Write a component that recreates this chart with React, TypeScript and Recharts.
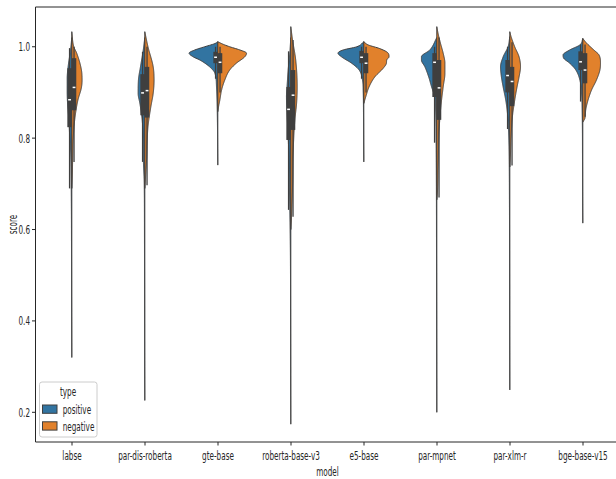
import React from 'react';
import { BarChart, Bar, XAxis, YAxis, ReferenceLine } from 'recharts';

const models = ['labse', 'par-dis-roberta', 'gte-base', 'roberta-base-v3', 'e5-base', 'par-mpnet', 'par-xlm-r', 'bge-base-v15'];
const types = ['positive', 'negative'];
const typeColors = ['#3274a1', '#e1812c'];
const yTicks = [0.2, 0.4, 0.6, 0.8, 1.0];
const yDomain = [0.135, 1.087];

// [score, relative density half-width]
const positiveProfiles: [number, number][][] = [
  [[1.02, 0], [0.99, 0.05], [0.96, 0.12], [0.93, 0.16], [0.9, 0.16], [0.87, 0.14], [0.84, 0.1], [0.8, 0.07], [0.77, 0.04], [0.72, 0.025], [0.65, 0.015], [0.55, 0.01], [0.45, 0.007], [0.32, 0]],
  [[1.02, 0], [0.99, 0.06], [0.956, 0.15], [0.927, 0.22], [0.898, 0.23], [0.876, 0.17], [0.84, 0.09], [0.8, 0.06], [0.752, 0.05], [0.7, 0.02], [0.6, 0.012], [0.45, 0.008], [0.3, 0.005], [0.226, 0]],
  [[1.011, 0], [1.007, 0.1], [1.0, 0.45], [0.993, 0.79], [0.986, 0.99], [0.978, 0.85], [0.971, 0.62], [0.956, 0.28], [0.942, 0.1], [0.912, 0.045], [0.876, 0.025], [0.83, 0.012], [0.78, 0.006], [0.741, 0]],
  [[1.02, 0], [0.986, 0.035], [0.95, 0.09], [0.912, 0.13], [0.891, 0.15], [0.854, 0.13], [0.803, 0.09], [0.767, 0.07], [0.73, 0.06], [0.643, 0.035], [0.55, 0.015], [0.4, 0.008], [0.25, 0.004], [0.174, 0]],
  [[1.011, 0], [1.0, 0.24], [0.993, 0.71], [0.986, 0.89], [0.978, 0.77], [0.964, 0.42], [0.949, 0.16], [0.927, 0.045], [0.9, 0.02], [0.85, 0.01], [0.8, 0.006], [0.748, 0]],
  [[1.02, 0], [0.993, 0.24], [0.978, 0.53], [0.971, 0.53], [0.956, 0.41], [0.934, 0.28], [0.912, 0.18], [0.89, 0.07], [0.86, 0.04], [0.8, 0.025], [0.7, 0.015], [0.55, 0.01], [0.4, 0.006], [0.2, 0]],
  [[1.022, 0], [1.0, 0.06], [0.978, 0.23], [0.956, 0.32], [0.934, 0.29], [0.912, 0.23], [0.883, 0.14], [0.854, 0.08], [0.818, 0.045], [0.77, 0.025], [0.65, 0.012], [0.5, 0.007], [0.35, 0.004], [0.249, 0]],
  [[1.018, 0], [1.004, 0.1], [0.993, 0.45], [0.982, 0.68], [0.975, 0.66], [0.964, 0.45], [0.949, 0.24], [0.927, 0.1], [0.898, 0.045], [0.85, 0.02], [0.75, 0.01], [0.65, 0.005], [0.614, 0]],
];

const negativeProfiles: [number, number][][] = [
  [[1.033, 0], [1.0, 0.07], [0.986, 0.17], [0.95, 0.33], [0.927, 0.355], [0.91, 0.33], [0.883, 0.21], [0.84, 0.1], [0.8, 0.05], [0.767, 0.035], [0.72, 0.017], [0.69, 0]],
  [[1.033, 0], [1.0, 0.11], [0.956, 0.29], [0.927, 0.32], [0.898, 0.29], [0.869, 0.21], [0.825, 0.11], [0.752, 0.06], [0.72, 0.03], [0.69, 0]],
  [[1.011, 0], [1.005, 0.2], [1.0, 0.41], [0.993, 0.76], [0.986, 0.99], [0.978, 0.93], [0.964, 0.64], [0.949, 0.41], [0.927, 0.24], [0.905, 0.13], [0.883, 0.07], [0.87, 0.03], [0.858, 0]],
  [[1.044, 0], [1.015, 0.06], [0.971, 0.17], [0.912, 0.22], [0.876, 0.2], [0.84, 0.14], [0.767, 0.08], [0.694, 0.06], [0.628, 0.025], [0.6, 0]],
  [[1.011, 0], [1.004, 0.15], [0.996, 0.55], [0.986, 0.84], [0.978, 0.87], [0.971, 0.79], [0.964, 0.78], [0.953, 0.67], [0.934, 0.38], [0.912, 0.18], [0.891, 0.07], [0.876, 0]],
  [[1.044, 0], [1.029, 0.045], [1.007, 0.13], [0.986, 0.22], [0.964, 0.28], [0.942, 0.28], [0.912, 0.22], [0.869, 0.14], [0.818, 0.08], [0.737, 0.045], [0.679, 0.02], [0.665, 0]],
  [[1.033, 0], [1.022, 0.045], [1.0, 0.17], [0.978, 0.32], [0.956, 0.37], [0.934, 0.32], [0.912, 0.25], [0.883, 0.17], [0.847, 0.09], [0.803, 0.045], [0.76, 0.02], [0.737, 0]],
  [[1.018, 0], [1.008, 0.13], [0.993, 0.38], [0.982, 0.56], [0.964, 0.61], [0.949, 0.59], [0.927, 0.47], [0.905, 0.3], [0.883, 0.18], [0.861, 0.1], [0.843, 0.07], [0.835, 0]],
];

// [whiskerLow, q1, median, q3, whiskerHigh]
const positiveBoxes: number[][] = [
  [0.69, 0.824, 0.884, 0.953, 0.997],
  [0.748, 0.85, 0.899, 0.94, 0.989],
  [0.93, 0.964, 0.977, 0.989, 1.0],
  [0.643, 0.796, 0.863, 0.912, 0.99],
  [0.93, 0.964, 0.977, 0.991, 1.0],
  [0.79, 0.89, 0.966, 0.986, 1.0],
  [0.82, 0.9, 0.937, 0.971, 1.0],
  [0.88, 0.949, 0.967, 0.99, 1.005],
];
const negativeBoxes: number[][] = [
  [0.748, 0.861, 0.911, 0.975, 1.0],
  [0.697, 0.845, 0.904, 0.956, 1.0],
  [0.9, 0.942, 0.966, 0.986, 1.0],
  [0.628, 0.818, 0.894, 0.949, 1.015],
  [0.9, 0.942, 0.964, 0.986, 1.0],
  [0.67, 0.84, 0.91, 0.971, 1.02],
  [0.74, 0.87, 0.924, 0.956, 1.01],
  [0.847, 0.92, 0.949, 0.986, 1.005],
];

const data = models.map((model, i) => {
  const all = [...positiveProfiles[i], ...negativeProfiles[i]].map((p) => p[0]);
  return {
    model,
    range: [Math.min(...all), Math.max(...all)],
    profiles: [positiveProfiles[i], negativeProfiles[i]],
    boxes: [positiveBoxes[i], negativeBoxes[i]],
  };
});

const FONT = 'DejaVu Sans';
const SQX = 0.58;
const FS = 12.5;
const EDGE = '#3f3f3f';

function monotoneSample(ts: number[], fs: number[]): [number, number][] {
  const n = ts.length;
  const d: number[] = [];
  for (let k = 0; k < n - 1; k++) d[k] = (fs[k + 1] - fs[k]) / (ts[k + 1] - ts[k] || 1e-9);
  const m: number[] = new Array(n);
  m[0] = d[0];
  m[n - 1] = d[n - 2];
  for (let k = 1; k < n - 1; k++) m[k] = d[k - 1] * d[k] <= 0 ? 0 : (d[k - 1] + d[k]) / 2;
  for (let k = 0; k < n - 1; k++) {
    if (d[k] === 0) {
      m[k] = 0;
      m[k + 1] = 0;
    } else {
      const a = m[k] / d[k];
      const b = m[k + 1] / d[k];
      const s = a * a + b * b;
      if (s > 9) {
        const tau = 3 / Math.sqrt(s);
        m[k] = tau * a * d[k];
        m[k + 1] = tau * b * d[k];
      }
    }
  }
  const out: [number, number][] = [];
  for (let k = 0; k < n - 1; k++) {
    const h = ts[k + 1] - ts[k];
    const steps = Math.max(2, Math.ceil(h / 0.5));
    for (let j = 0; j < steps; j++) {
      const u = j / steps;
      const h00 = 2 * u ** 3 - 3 * u ** 2 + 1;
      const h10 = u ** 3 - 2 * u ** 2 + u;
      const h01 = -2 * u ** 3 + 3 * u ** 2;
      const h11 = u ** 3 - u ** 2;
      const f = h00 * fs[k] + h10 * h * m[k] + h01 * fs[k + 1] + h11 * h * m[k + 1];
      out.push([ts[k] + u * h, Math.max(0, f)]);
    }
  }
  out.push([ts[n - 1], fs[n - 1]]);
  return out;
}

const ViolinShape = (props: any) => {
  const { x, y, width, height, payload } = props;
  if (!payload) return null;
  const [lo, hi] = payload.range;
  const cx = x + width / 2;
  const hw = width / 2;
  const py = (v: number) => y + ((hi - v) / (hi - lo)) * height;
  const bw = width * 0.077;
  const bodies = payload.profiles.map((profile: [number, number][], si: number) => {
    const side = si === 0 ? -1 : 1;
    const ts = profile.map((p) => py(p[0]));
    const fs = profile.map((p) => p[1] * hw);
    const pts = monotoneSample(ts, fs);
    let d = `M${cx},${ts[0]}`;
    pts.forEach(([t, f]) => {
      d += `L${cx + side * f},${t}`;
    });
    d += `L${cx},${ts[ts.length - 1]}Z`;
    return <path key={'b' + si} d={d} fill={typeColors[si]} stroke={EDGE} strokeWidth={1} strokeLinejoin="round" />;
  });
  const boxes = payload.boxes.map((b: number[], si: number) => {
    const bx = si === 0 ? cx - bw : cx;
    const bc = bx + bw / 2;
    const [wl, q1, med, q3, wh] = b;
    return (
      <g key={'x' + si}>
        <line x1={bc} x2={bc} y1={py(wh)} y2={py(wl)} stroke={EDGE} strokeWidth={1.3} />
        <rect x={bx} y={py(q3)} width={bw} height={py(q1) - py(q3)} fill={EDGE} />
        <rect x={bc - 1.4} y={py(med) - 0.75} width={2.8} height={1.5} fill="#ffffff" />
      </g>
    );
  });
  return (
    <g>
      {bodies}
      {boxes}
    </g>
  );
};

const XTick = (props: any) => {
  const { x, y, payload } = props;
  return (
    <g transform={`translate(${x},${y})`}>
      <text transform={`scale(${SQX},1)`} textAnchor="middle" dy="0.71em" fontSize={FS} fontFamily={FONT} fill="#262626">
        {payload.value}
      </text>
    </g>
  );
};

const YTick = (props: any) => {
  const { x, y, payload } = props;
  return (
    <g transform={`translate(${x},${y})`}>
      <text transform={`scale(${SQX},1)`} textAnchor="end" dy="0.36em" fontSize={FS} fontFamily={FONT} fill="#262626">
        {Number(payload.value).toFixed(1)}
      </text>
    </g>
  );
};

const SText = ({ x, y, anchor, rotate, children }: any) => (
  <g transform={`translate(${x},${y})${rotate ? ` rotate(${rotate})` : ''}`}>
    <text transform={`scale(${SQX},1)`} textAnchor={anchor} dy="0.36em" fontSize={FS} fontFamily={FONT} fill="#262626">
      {children}
    </text>
  </g>
);

export default function App() {
  return (
    <div style={{ position: 'fixed', left: 0, top: 0, width: 616, height: 479, overflow: 'hidden', background: '#fff' }}>
      <BarChart
        width={640}
        height={479}
        data={data}
        margin={{ top: 7, right: 20.5, bottom: 0, left: 0 }}
        barCategoryGap="10%"
      >
        <XAxis
          dataKey="model"
          type="category"
          height={37}
          tick={<XTick />}
          tickSize={3.5}
          tickMargin={6}
          axisLine={{ stroke: '#262626' }}
          tickLine={{ stroke: '#262626' }}
          interval={0}
        />
        <YAxis
          type="number"
          domain={yDomain}
          allowDataOverflow
          ticks={yTicks}
          width={35.5}
          tick={<YTick />}
          tickSize={3.5}
          tickMargin={2}
          axisLine={{ stroke: '#262626' }}
          tickLine={{ stroke: '#262626' }}
        />
        <ReferenceLine y={yDomain[1]} stroke="#262626" strokeWidth={1} ifOverflow="visible" />
        <Bar dataKey="range" shape={<ViolinShape />} isAnimationActive={false} />
      </BarChart>
      <svg width={616} height={479} style={{ position: 'absolute', left: 0, top: 0, pointerEvents: 'none' }}>
        <SText x={12} y={224.5} anchor="middle" rotate={-90}>score</SText>
        <SText x={327.5} y={471} anchor="middle">model</SText>
        <rect x={39.5} y={382} width={57.5} height={55} rx={2.5} fill="#ffffff" fillOpacity={0.8} stroke="#cccccc" />
        <SText x={68} y={391.7} anchor="middle">type</SText>
        {types.map((t, i) => (
          <g key={t}>
            <rect x={42.5} y={405 + i * 16.8} width={14.5} height={8.3} fill={typeColors[i]} stroke={EDGE} strokeWidth={1} />
            <SText x={62.7} y={409.2 + i * 16.8} anchor="start">{t}</SText>
          </g>
        ))}
      </svg>
    </div>
  );
}
